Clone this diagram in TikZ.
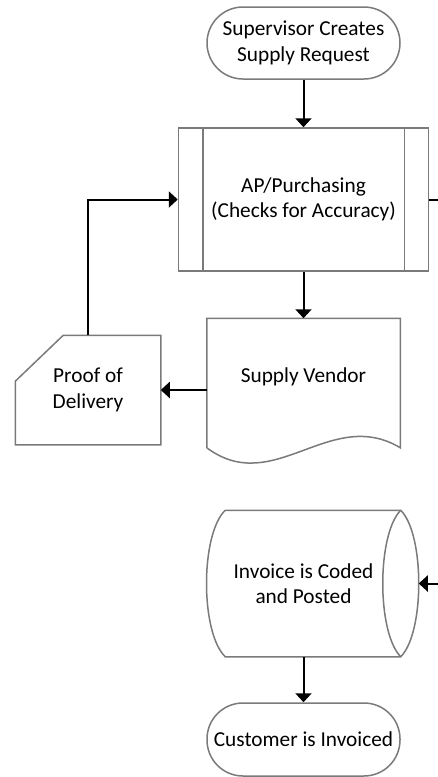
\documentclass[tikz,border=0pt]{standalone}
\usepackage{fontspec}
\setmainfont{Carlito}
\usetikzlibrary{arrows.meta}
\definecolor{edge}{HTML}{7A7A7A}

\begin{document}
\begin{tikzpicture}[x=1pt,y=-1pt,
        box/.style={draw=edge,line width=1.5pt,align=center,inner sep=0pt,
                font=\fontsize{21.3}{25.5}\selectfont},
        plain/.style={box,draw=none},
        outline/.style={draw=edge,line width=1.5pt},
        arr/.style={line width=2pt,-{Triangle[length=9pt,width=16pt]}}]
        \useasboundingbox (0,0) rectangle (438,777);
        \node[box,rounded corners=36pt,minimum width=193pt,minimum height=72pt] (request) at (303.5,43) {Supervisor Creates\\Supply Request};
        \node[box,minimum width=250pt,minimum height=143pt] (check) at (303.5,199.5) {AP/Purchasing\\(Checks for Accuracy)};
        \foreach \a/\d in {west/25,east/-25}
        \draw[outline] ([xshift=\d pt]check.north \a) -- ([xshift=\d pt]check.south \a);
        \node[plain,minimum width=192pt,minimum height=116pt] (vendor) at (303.5,377) {Supply Vendor};
        \draw[outline] ([yshift=-12pt]vendor.south west) -- (vendor.north west) -- (vendor.north east) -- ([yshift=-12pt]vendor.south east)
        .. controls +(-70,-42) and +(67,50) .. ([yshift=-12pt]vendor.south west);
        \node[plain,minimum width=144pt,minimum height=108pt] (proof) at (88,390) {Proof of\\Delivery};
        \draw[outline] ([xshift=48pt]proof.north west) -- (proof.north east) -- (proof.south east) -- (proof.south west) -- ([yshift=-46pt]proof.north west) -- cycle;
        \node[plain,minimum width=193pt,minimum height=145pt] (invoice) at (303.5,583.5) {Invoice is Coded\\and Posted};
        \draw[outline] ([xshift=19pt]invoice.north west) -- (invoice.north east) .. controls +(24,24) and +(24,-24) .. (invoice.south east)
        -- ([xshift=19pt]invoice.south west) .. controls +(-25,-24) and +(-25,24) .. ([xshift=19pt]invoice.north west);
        \draw[outline] (invoice.north east) .. controls +(-24,24) and +(-24,-24) .. (invoice.south east);
        \coordinate (disk) at ([xshift=18pt]invoice.east);
        \node[box,rounded corners=36pt,minimum width=193pt,minimum height=73pt] (invoiced) at (303.5,739.5) {Customer is Invoiced};
        \coordinate (exit) at (438,199.5);
        \coordinate (entry) at (438,583.5);
        \draw[arr] (request.south) -- (check.north);
        \draw[arr] (check.south) -- (vendor.north);
        \draw[arr] (proof.east -| vendor.west) -- (proof.east);
        \draw[arr] (proof.north) |- (check.west);
        \draw[line width=2pt] (check.east) -- (exit);
        \draw[arr] (entry) -- (disk);
        \draw[arr] (invoice.south) -- (invoiced.north);
\end{tikzpicture}
\end{document}
